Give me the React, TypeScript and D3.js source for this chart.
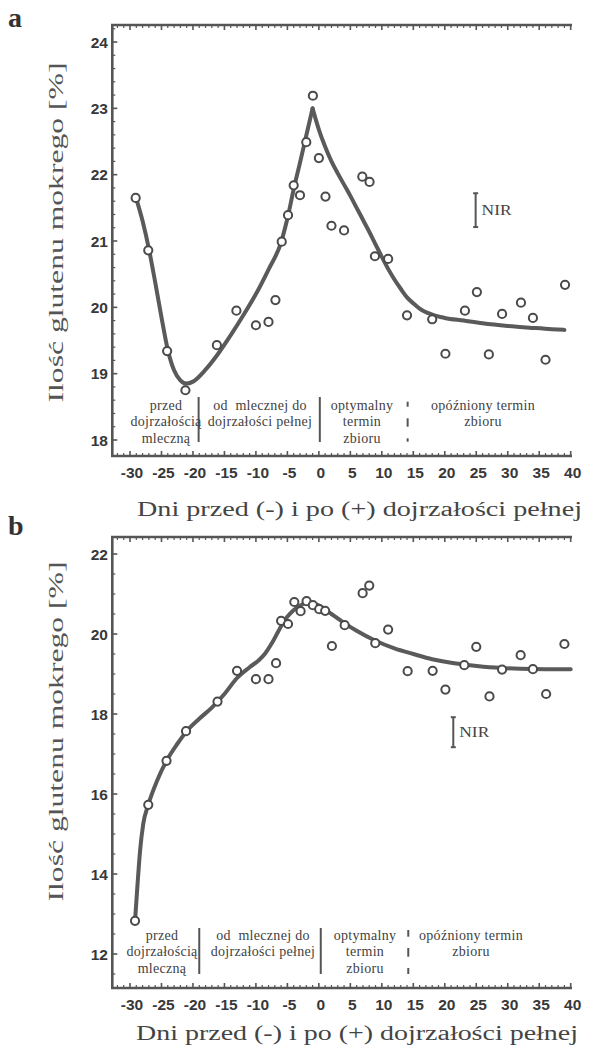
import React from 'react';
import * as d3 from 'd3';

// ---------- shared ----------
const xTickLabels = [-30, -25, -20, -15, -10, -5, 0, 5, 10, 15, 20, 25, 30, 35, 40];
const xMinorDays = [-32, -31, -29, -28, -27, -26, -24, -23, -22, -21, -19, -18, -17, -16, -14, -13, -12, -11, -9, -8, -7, -6, -4, -3, -2, -1, 1, 2, 3, 4, 6, 7, 8, 9, 11, 12, 13, 14, 16, 17, 18, 19, 21, 22, 23, 24, 26, 27, 28, 29, 31, 32, 33, 34, 36, 37, 38, 39];
const phaseLabels = [
  ['przed', 'dojrzałością', 'mleczną'],
  ['od  mlecznej do', 'dojrzałości pełnej'],
  ['optymalny', 'termin', 'zbioru'],
  ['opóźniony termin', 'zbioru'],
];
const xTitle = 'Dni przed (-) i po (+) dojrzałości pełnej';
const yTitle = 'Ilość glutenu mokrego [%]';

// ---------- panel a ----------
const aDays = [-29.1, -27.1, -24.1, -21.2, -16.2, -13.1, -10.0, -8.0, -6.9, -5.9, -4.9, -4.0, -3.0, -2.0, -0.95, 0.0, 1.05, 2.0, 4.0, 6.9, 8.05, 8.9, 11.0, 14.0, 18.0, 20.1, 23.2, 25.1, 27.0, 29.1, 32.1, 34.0, 36.0, 39.1];
const aGluten = [21.65, 20.86, 19.34, 18.75, 19.43, 19.95, 19.73, 19.78, 20.11, 20.99, 21.39, 21.84, 21.69, 22.49, 23.19, 22.25, 21.67, 21.23, 21.16, 21.97, 21.89, 20.77, 20.73, 19.88, 19.82, 19.30, 19.95, 20.23, 19.29, 19.90, 20.07, 19.84, 19.21, 20.34];
const aFitUpDays = [-29.1, -28, -27, -26, -25, -24, -23, -22, -21, -20, -18, -16, -14, -12, -10, -8, -6, -4.9, -4, -3, -2, -1];
const aFitUpVals = [21.67, 21.3, 20.88, 20.38, 19.85, 19.36, 19.05, 18.9, 18.85, 18.88, 19.06, 19.3, 19.58, 19.88, 20.2, 20.57, 20.98, 21.38, 21.78, 22.18, 22.59, 23.0];
const aFitDownDays = [-1, 0, 1, 2, 3, 4, 5, 6, 7, 8, 9, 10, 11, 12, 13, 14, 15, 16, 18, 20, 23, 26, 30, 34, 37, 39];
const aFitDownVals = [23.0, 22.68, 22.42, 22.2, 22.02, 21.85, 21.68, 21.5, 21.32, 21.14, 20.95, 20.76, 20.58, 20.42, 20.28, 20.15, 20.06, 19.98, 19.89, 19.84, 19.8, 19.76, 19.72, 19.69, 19.67, 19.66];
const aYTicks = [18, 19, 20, 21, 22, 23, 24];
const aNir = { day: 24.9, low: 21.21, high: 21.72 };

// ---------- panel b ----------
const bDays = [-29.2, -27.1, -24.2, -21.1, -16.1, -13.0, -10.0, -8.0, -6.8, -6.0, -4.9, -3.9, -2.9, -1.95, -0.95, 0.05, 1.0, 2.07, 4.1, 6.95, 8.0, 8.96, 11.0, 14.1, 18.07, 20.1, 23.1, 25.0, 27.1, 29.1, 32.05, 34.0, 36.1, 39.0];
const bGluten = [12.83, 15.73, 16.83, 17.57, 18.31, 19.08, 18.87, 18.87, 19.27, 20.33, 20.25, 20.8, 20.57, 20.82, 20.72, 20.62, 20.58, 19.7, 20.22, 21.02, 21.21, 19.77, 20.11, 19.07, 19.08, 18.61, 19.22, 19.68, 18.44, 19.11, 19.47, 19.12, 18.5, 19.75];
const bFitDays = [-29.2, -28.8, -28.4, -27.9, -27.1, -25.7, -24.2, -22.5, -21, -19, -17, -15, -13, -11, -9.5, -8.5, -7.5, -6.5, -5.5, -4.5, -3.5, -2.5, -1.5, -0.5, 0.5, 2, 4, 6, 9, 12, 15, 18, 21, 24, 28, 32, 36, 40];
const bFitVals = [12.83, 13.75, 14.58, 15.25, 15.73, 16.33, 16.83, 17.25, 17.57, 17.88, 18.16, 18.5, 18.9, 19.17, 19.35, 19.52, 19.76, 20.05, 20.33, 20.52, 20.66, 20.75, 20.79, 20.75, 20.67, 20.5, 20.28, 20.08, 19.83, 19.64, 19.5, 19.37, 19.28, 19.22, 19.16, 19.13, 19.12, 19.12];
const bYTicks = [12, 14, 16, 18, 20, 22];
const bNir = { day: 21.35, low: 17.17, high: 17.92 };

// ---------- layout ----------
const INK = '#555';
const TXT = '#383838';

const panelA = {
  letter: 'a', letterY: 27,
  top: 25, bottom: 456,
  yDomain: [18, 24], yRange: [440, 42], minorStep: 0.2,
  fits: [[aFitUpDays, aFitUpVals], [aFitDownDays, aFitDownVals]],
  days: aDays, vals: aGluten, nir: aNir,
  sepDays: [-19.1, 0.15], dashDay: 14.1, sepTop: 397, sepBottom: 442,
  dashes: [[401.7, 406.7], [418.3, 426.7], [438.3, 441.7]],
  labelX: [166, 260, 362, 483], labelY0: 409.5,
  tickLabelY: 478, titleY: 516, titleX: 137, titleLen: 445,
  yTitleCy: 232.5,
};
const panelB = {
  letter: 'b', letterY: 535,
  top: 537, bottom: 988,
  yDomain: [12, 22], yRange: [954, 554], minorStep: 0.5,
  fits: [[bFitDays, bFitVals]],
  days: bDays, vals: bGluten, nir: bNir,
  sepDays: [-19.0, 0.3], dashDay: 14.2, sepTop: 928, sepBottom: 974,
  dashes: [[930, 936.7], [948, 956.7], [968, 974]],
  labelX: [162, 263, 365, 471], labelY0: 939.5,
  tickLabelY: 1010, titleY: 1040, titleX: 136, titleLen: 442,
  yTitleCy: 731.5,
};

const LEFT = 112.3;
const RIGHT = 572;

function Panel({ cfg }: { cfg: any }) {
  const x = d3.scaleLinear().domain([-30, 40]).range([130, 570.7]);
  const y = d3.scaleLinear().domain(cfg.yDomain).range(cfg.yRange);
  const line = d3.line<[number, number]>().x(d => x(d[0])).y(d => y(d[1])).curve(d3.curveMonotoneX);
  const majors: number[] = cfg.letter === 'a' ? aYTicks : bYTicks;

  const yMinor: number[] = [];
  const [y0] = cfg.yDomain;
  for (let i = -6; i < 200; i++) {
    const v = y0 + i * cfg.minorStep;
    const py = y(v);
    if (py < cfg.top + 3) break;
    if (py > cfg.bottom - 3) continue;
    if (majors.some(m => Math.abs(m - v) < 1e-6)) continue;
    yMinor.push(v);
  }

  const nirX = x(cfg.nir.day);
  const nirTop = y(cfg.nir.high);
  const nirBot = y(cfg.nir.low);

  return (
    <g>
      <text x={8} y={cfg.letterY} fontFamily="Liberation Serif, serif" fontWeight="bold" fontSize={28} fill="#333">{cfg.letter}</text>

      {/* frame */}
      <path d={`M${RIGHT},${cfg.top}H${LEFT}V${cfg.bottom}H${RIGHT}`} fill="none" stroke={INK} strokeWidth={2.6} />

      {/* x ticks */}
      {xTickLabels.map(t => (
        <g key={'xt' + t}>
          <line x1={x(t)} x2={x(t)} y1={cfg.bottom} y2={cfg.bottom - 5} stroke={INK} strokeWidth={1.6} />
          <line x1={x(t)} x2={x(t)} y1={cfg.top} y2={cfg.top + 5} stroke={INK} strokeWidth={1.6} />
          <text x={x(t) + 2} y={cfg.tickLabelY} textAnchor="middle" fontFamily="Liberation Sans, Arial, sans-serif" fontWeight="bold" fontSize={15.5} fill={TXT}>{t}</text>
        </g>
      ))}
      {xMinorDays.map(t => (
        <g key={'xm' + t}>
          <line x1={x(t)} x2={x(t)} y1={cfg.bottom} y2={cfg.bottom - 3} stroke={INK} strokeWidth={1.2} />
          <line x1={x(t)} x2={x(t)} y1={cfg.top} y2={cfg.top + 3} stroke={INK} strokeWidth={1.2} />
        </g>
      ))}

      {/* y ticks */}
      {majors.map((t: number) => (
        <g key={'yt' + t}>
          <line x1={LEFT} x2={LEFT + 5} y1={y(t)} y2={y(t)} stroke={INK} strokeWidth={1.6} />
          <text x={108} y={y(t)} dy="0.36em" textAnchor="end" fontFamily="Liberation Sans, Arial, sans-serif" fontWeight="bold" fontSize={15.5} fill={TXT}>{t}</text>
        </g>
      ))}
      {yMinor.map((t, i) => (
        <line key={'ym' + i} x1={LEFT} x2={LEFT + 3} y1={y(t)} y2={y(t)} stroke={INK} strokeWidth={1.2} />
      ))}

      {/* phase separators */}
      {cfg.sepDays.map((d: number, i: number) => (
        <line key={'sep' + i} x1={x(d)} x2={x(d)} y1={cfg.sepTop} y2={cfg.sepBottom} stroke={INK} strokeWidth={2} />
      ))}
      {cfg.dashes.map((seg: number[], i: number) => (
        <line key={'dash' + i} x1={x(cfg.dashDay)} x2={x(cfg.dashDay)} y1={seg[0]} y2={seg[1]} stroke={INK} strokeWidth={2} />
      ))}
      {phaseLabels.map((lines, i) => (
        <text key={'ph' + i} fontFamily="Liberation Serif, serif" fontSize={14} fill="#3f3f3f" textAnchor="middle" style={{ whiteSpace: 'pre' }} letterSpacing={0.3}>
          {lines.map((l, j) => (
            <tspan key={j} x={cfg.labelX[i]} y={cfg.labelY0 + j * 16.7}>{l}</tspan>
          ))}
        </text>
      ))}

      {/* fitted curve(s) */}
      {cfg.fits.map((f: number[][], i: number) => (
        <path key={'fit' + i} d={line(f[0].map((d, k) => [d, f[1][k]] as [number, number])) || ''} fill="none" stroke="#5a5a5a" strokeWidth={4} strokeLinejoin="round" strokeLinecap="round" />
      ))}

      {/* observations */}
      {cfg.days.map((d: number, i: number) => (
        <circle key={'pt' + i} cx={x(d)} cy={y(cfg.vals[i])} r={4.1} fill="#fff" stroke="#4a4a4a" strokeWidth={2} />
      ))}

      {/* NIR */}
      <g stroke={INK} strokeWidth={2}>
        <line x1={nirX} x2={nirX} y1={nirTop} y2={nirBot} />
        <line x1={nirX - 2.5} x2={nirX + 2.5} y1={nirTop} y2={nirTop} />
        <line x1={nirX - 2.5} x2={nirX + 2.5} y1={nirBot} y2={nirBot} />
      </g>
      <text x={nirX + 6} y={(nirTop + nirBot) / 2 + 5} fontFamily="Liberation Serif, serif" fontSize={15} fill="#444" textLength={30} lengthAdjust="spacingAndGlyphs">NIR</text>

      {/* axis titles */}
      <text x={cfg.titleX} y={cfg.titleY} fontFamily="Liberation Serif, serif" fontSize={20} fill="#444" textLength={cfg.titleLen} lengthAdjust="spacingAndGlyphs">{xTitle}</text>
      <text transform={`translate(63,${cfg.yTitleCy}) rotate(-90)`} textAnchor="middle" fontFamily="Liberation Serif, serif" fontSize={20} fill="#555" textLength={340} lengthAdjust="spacingAndGlyphs">{yTitle}</text>
    </g>
  );
}

export default function App() {
  return (
    <svg width={591} height={1048} viewBox="0 0 591 1048" style={{ position: 'absolute', left: 0, top: 0, background: '#fff' }}>
      <rect width={591} height={1048} fill="#fff" />
      <Panel cfg={panelA} />
      <Panel cfg={panelB} />
    </svg>
  );
}
